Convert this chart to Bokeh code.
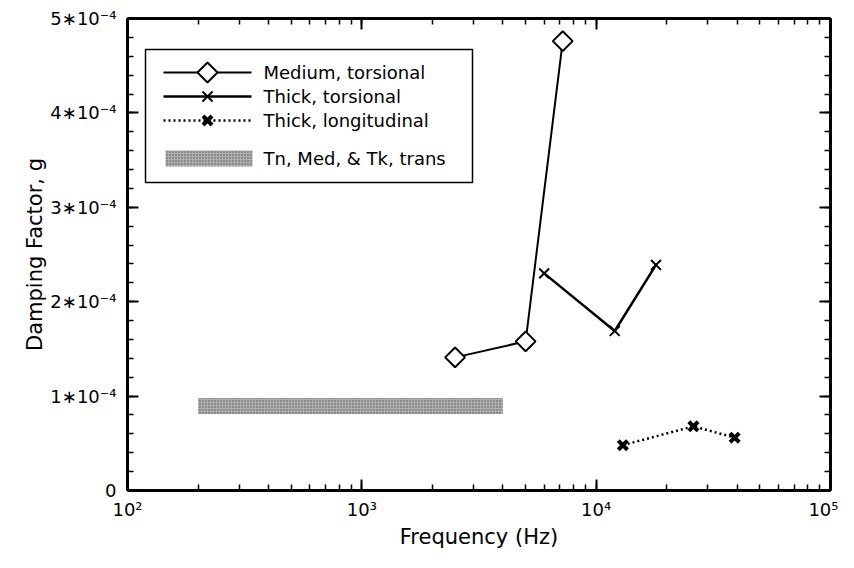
import numpy as np
from bokeh.plotting import figure
from bokeh.models import (Range1d, LogAxis, LinearAxis, FixedTicker, LogTicker,
                          CustomJSTickFormatter, BoxAnnotation, PolyAnnotation,
                          Arrow, Label)
from bokeh.embed import file_html
from bokeh.resources import INLINE

# ---- data ----
medium_freq = [2500, 5000, 7200]
medium_g = [1.41e-4, 1.58e-4, 4.76e-4]

thick_tors_freq = [6000, 12000, 18000]
thick_tors_g = [2.30e-4, 1.69e-4, 2.39e-4]

thick_long_freq = [13000, 26000, 39000]
thick_long_g = [0.48e-4, 0.68e-4, 0.56e-4]

band_freq = [200, 4000]          # Tn, Med, & Tk, trans (range)
band_g = [0.81e-4, 0.98e-4]

legend_labels = ["Medium, torsional", "Thick, torsional", "Thick, longitudinal",
                 "Tn, Med, & Tk, trans"]

y_tick_values = [0, 1e-4, 2e-4, 3e-4, 4e-4, 5e-4]
y_tick_labels = ["0", "1\u221710\u207b\u2074", "2\u221710\u207b\u2074", "3\u221710\u207b\u2074",
                 "4\u221710\u207b\u2074", "5\u221710\u207b\u2074"]
x_tick_values = [1e2, 1e3, 1e4, 1e5]
x_tick_labels = ["10\u00b2", "10\u00b3", "10\u2074", "10\u2075"]

FONT = "DejaVu Sans"

W, H = 838, 552
ML, MR, MT, MB = 127, 8, 18, 62

p = figure(width=W, height=H, x_axis_type="log",
           x_range=Range1d(100, 1e5), y_range=Range1d(0, 5e-4),
           output_backend="svg", toolbar_location=None,
           min_border_left=ML, min_border_right=MR,
           min_border_top=MT, min_border_bottom=MB)
p.xgrid.visible = False
p.ygrid.visible = False
p.outline_line_color = None
p.background_fill_color = "white"

BAND_STYLE = dict(fill_color="#b0b0b0", line_color=None,
                  hatch_pattern="dot", hatch_color="#505050", hatch_scale=3, hatch_weight=1)

# band
p.quad(left=[band_freq[0]], right=[band_freq[1]], bottom=[band_g[0]], top=[band_g[1]],
       **BAND_STYLE)

# medium torsional
p.line(medium_freq, medium_g, line_color="black", line_width=2)
p.scatter(medium_freq, medium_g, marker="square", angle=np.pi / 4, size=14,
          fill_color="white", line_color="black", line_width=2)

# thick torsional
p.line(thick_tors_freq, thick_tors_g, line_color="black", line_width=2.5)
p.scatter(thick_tors_freq, thick_tors_g, marker="x", size=14,
          line_color="black", line_width=2)

# thick longitudinal
p.line(thick_long_freq, thick_long_g, line_color="black", line_width=2.5, line_dash="2 3")
p.scatter(thick_long_freq, thick_long_g, marker="x", size=13,
          line_color="black", line_width=4)

ytick = FixedTicker(ticks=y_tick_values,
                    minor_ticks=list(np.round(np.arange(0, 5.0001e-4, 0.2e-4), 8)))
yfmt = CustomJSTickFormatter(args=dict(vals=y_tick_values, labs=y_tick_labels), code="""
let best = 0, d = Infinity;
for (let i = 0; i < vals.length; i++) {
  const dd = Math.abs(vals[i] - tick);
  if (dd < d) { d = dd; best = i; }
}
return labs[best];
""")
xfmt = CustomJSTickFormatter(args=dict(vals=x_tick_values, labs=x_tick_labels), code="""
let best = 0, d = Infinity;
for (let i = 0; i < vals.length; i++) {
  const dd = Math.abs(Math.log10(vals[i]) - Math.log10(tick));
  if (dd < d) { d = dd; best = i; }
}
return labs[best];
""")
blank = CustomJSTickFormatter(code="return '';")


def style(ax):
    ax.axis_line_width = 3
    ax.axis_line_color = "black"
    ax.major_tick_in = 11
    ax.major_tick_out = 0
    ax.minor_tick_in = 6
    ax.minor_tick_out = 0
    ax.major_tick_line_width = 2
    ax.minor_tick_line_width = 1.5
    ax.major_tick_line_color = "black"
    ax.minor_tick_line_color = "black"
    ax.major_label_text_font = FONT
    ax.major_label_text_font_size = "18px"
    ax.major_label_text_color = "black"
    ax.axis_label_text_font = FONT
    ax.axis_label_text_font_size = "21px"
    ax.axis_label_text_font_style = "normal"
    ax.axis_label_text_color = "black"


xa = p.xaxis[0]
xa.ticker = LogTicker(num_minor_ticks=10)
xa.formatter = xfmt
style(xa)
xa.major_label_standoff = 8
xa.axis_label = "Frequency (Hz)"
xa.axis_label_standoff = 2

ya = p.yaxis[0]
ya.ticker = ytick
ya.formatter = yfmt
style(ya)
ya.major_label_standoff = 11
ya.axis_label = "Damping Factor, g"
ya.axis_label_standoff = 0

top = LogAxis(ticker=LogTicker(num_minor_ticks=10), formatter=blank)
style(top)
top.major_label_text_font_size = "0px"
top.major_label_standoff = 0
p.add_layout(top, "above")

right = LinearAxis(ticker=ytick, formatter=blank)
style(right)
right.major_label_text_font_size = "0px"
right.major_label_standoff = 0
p.add_layout(right, "right")

# ---- legend, drawn in screen units (relative to the frame's bottom-left) ----
FB = H - MB  # frame bottom in figure pixels


def sx(px):
    return px - ML


def sy(py):
    return FB - py


S = dict(left_units="screen", right_units="screen", top_units="screen", bottom_units="screen")
p.add_layout(BoxAnnotation(left=sx(145), right=sx(472), top=sy(49), bottom=sy(182),
                           fill_color="white", fill_alpha=1, line_color="black",
                           line_width=1.5, line_alpha=1, **S))

rows_y = [72, 96, 120, 158]
g0, g1, gc = 163, 251, 207
AU = dict(start_units="screen", end_units="screen")

# row 1: line + diamond
p.add_layout(Arrow(end=None, x_start=sx(g0), y_start=sy(rows_y[0]), x_end=sx(g1),
                   y_end=sy(rows_y[0]), line_width=2, line_color="black", **AU))
r = 10
p.add_layout(PolyAnnotation(xs=[sx(gc - r), sx(gc), sx(gc + r), sx(gc)],
                            ys=[sy(rows_y[0]), sy(rows_y[0] - r), sy(rows_y[0]), sy(rows_y[0] + r)],
                            xs_units="screen", ys_units="screen",
                            fill_color="white", fill_alpha=1, line_color="black",
                            line_width=2, line_alpha=1))

# row 2: line + thin x
p.add_layout(Arrow(end=None, x_start=sx(g0), y_start=sy(rows_y[1]), x_end=sx(g1),
                   y_end=sy(rows_y[1]), line_width=2.5, line_color="black", **AU))
# row 3: dotted line + bold x
p.add_layout(Arrow(end=None, x_start=sx(g0), y_start=sy(rows_y[2]), x_end=sx(g1),
                   y_end=sy(rows_y[2]), line_width=2.5, line_color="black",
                   line_dash="2 3", **AU))
for yy, hh, lw in [(rows_y[1], 5, 2), (rows_y[2], 4.5, 4)]:
    for d in (1, -1):
        p.add_layout(Arrow(end=None, x_start=sx(gc - hh), y_start=sy(yy - d * hh),
                           x_end=sx(gc + hh), y_end=sy(yy + d * hh),
                           line_width=lw, line_color="black", **AU))

# row 4: band swatch
p.add_layout(BoxAnnotation(left=sx(165), right=sx(252), top=sy(rows_y[3] - 8),
                           bottom=sy(rows_y[3] + 8), fill_alpha=1, **S,
                           **{k: v for k, v in BAND_STYLE.items()}))

for lab, yy in zip(legend_labels, rows_y):
    p.add_layout(Label(x=sx(263), y=sy(yy), x_units="screen", y_units="screen",
                       text=lab, text_font=FONT, text_font_size="18px",
                       text_color="black", text_baseline="middle", text_align="left"))

open("out.html", "w").write(file_html(p, INLINE))
